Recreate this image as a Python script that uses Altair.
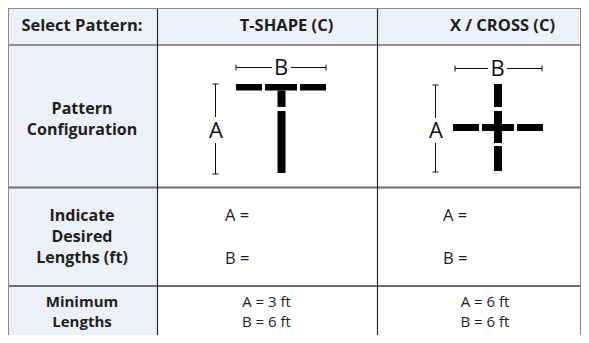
import altair as alt
import pandas as pd

# ---------------- content ----------------
corner_label = "Select Pattern:"
patterns = ["T-SHAPE (C)", "X / CROSS (C)"]
row_labels = [
    ["Pattern", "Configuration"],
    ["Indicate", "Desired", "Lengths (ft)"],
    ["Minimum", "Lengths"],
]
entry_labels = ["A =", "B ="]
min_a_ft = [3, 6]
min_b_ft = [6, 6]
dim_letters = ["A", "B"]

# ---------------- layout (page pixels) ----------------
W, H = 573, 327
DOM_X = [8, 8 + W]
DOM_Y = [8, 8 + H]
col_edges = [8, 157.5, 377.5, 581]
row_edges = [8, 45, 187.5, 286, 400]
BG = "#edf0f6"
INK = "#1e1e1e"

xs = alt.Scale(domain=DOM_X, range=[0, W], nice=False, zero=False)
ys = alt.Scale(domain=DOM_Y, range=[0, H], nice=False, zero=False)


def X(f="x"):
    return alt.X(f"{f}:Q", scale=xs, axis=None)


def Y(f="y"):
    return alt.Y(f"{f}:Q", scale=ys, axis=None)


# backgrounds
bg = pd.DataFrame({
    "x": [col_edges[0], col_edges[0]],
    "x2": [col_edges[3], col_edges[1]],
    "y": [row_edges[0], row_edges[1]],
    "y2": [row_edges[1], row_edges[4]],
})
bg_layer = alt.Chart(bg).mark_rect(color=BG).encode(
    x=X(), x2="x2:Q", y=Y(), y2="y2:Q")

# grid lines
vlines = pd.DataFrame({"x": col_edges[1:3], "y": [row_edges[0]] * 2, "y2": [row_edges[4]] * 2})
vline_layer = alt.Chart(vlines).mark_rule(color="#2b2b2b", strokeWidth=1.2).encode(
    x=X(), y=Y(), y2="y2:Q")

hlines = pd.DataFrame({"y": row_edges[1:4], "x": [col_edges[0]] * 3, "x2": [col_edges[3]] * 3,
                       "w": [1.5, 2, 2]})
hline_layer = alt.Chart(hlines).mark_rule(color="#6f6f6f").encode(
    y=Y(), x=X(), x2="x2:Q", strokeWidth=alt.StrokeWidth("w:Q", scale=None, legend=None))

outer = pd.DataFrame({
    "x": [col_edges[0], col_edges[0] + 0.5, col_edges[3] - 0.5],
    "x2": [col_edges[3], col_edges[0] + 0.5, col_edges[3] - 0.5],
    "y": [row_edges[0] + 0.5, row_edges[0], row_edges[0]],
    "y2": [row_edges[0] + 0.5, row_edges[4], row_edges[4]],
})
outer_layer = alt.Chart(outer).mark_rule(color="#8a8a8a", strokeWidth=1).encode(
    x=X(), x2="x2:Q", y=Y(), y2="y2:Q")

# ---------------- text ----------------
header_x = [82, 286.5, 502.5]
header_y = 31
hdr = pd.DataFrame({"t": [corner_label] + patterns, "x": header_x, "y": [header_y] * 3})
hdr_layer = alt.Chart(hdr).mark_text(font="Open Sans", fontWeight="bold", fontSize=16.5,
                                     color=INK, align="center", baseline="alphabetic").encode(
    x=X(), y=Y(), text="t:N")

# multi-line row labels: first baseline + line height per row
row_first_baseline = [114, 221, 307]
row_line_height = [21, 21, 19.5]
row_font_size = [16, 16, 15]
labels = pd.DataFrame({
    "t": ["\n".join(lines) for lines in row_labels],
    "x": [82] * 3,
    "y": row_first_baseline,
})
lab_layers = [
    alt.Chart(labels.iloc[[i]]).mark_text(font="Open Sans", fontWeight="bold",
                                          fontSize=row_font_size[i],
                                          color=INK, align="center", baseline="alphabetic",
                                          lineBreak="\n", lineHeight=row_line_height[i]).encode(
        x=X(), y=Y(), text="t:N")
    for i in range(3)
]

entry_x = [225, 443]
entry_y = [221, 264]
ent = pd.DataFrame([{"t": t, "x": ex, "y": ey}
                    for ex in entry_x for t, ey in zip(entry_labels, entry_y)])
ent_layer = alt.Chart(ent).mark_text(font="Open Sans", fontSize=16.5, color=INK,
                                     align="left", baseline="alphabetic").encode(
    x=X(), y=Y(), text="t:N")

min_x = [266.5, 485]
mins = pd.DataFrame({
    "t": [f"A = {a} ft\nB = {b} ft" for a, b in zip(min_a_ft, min_b_ft)],
    "x": min_x,
    "y": [307, 307],
})
min_layer = alt.Chart(mins).mark_text(font="Open Sans", fontSize=15, color=INK,
                                      align="center", baseline="alphabetic",
                                      lineBreak="\n", lineHeight=19.5).encode(
    x=X(), y=Y(), text="t:N")

# ---------------- pattern diagrams ----------------
# black bar pieces (x, x2, y, y2)
t_pieces = [
    (236, 262, 84, 90.5), (265, 297, 84, 90.5), (300, 326, 84, 90.5),
    (277.5, 285.5, 90.5, 107), (277.5, 285.5, 111, 173),
]
x_pieces = [
    (453, 479, 124, 131), (482, 514, 124, 131), (517, 543, 124, 131),
    (494, 502, 84, 107), (494, 502, 111, 124), (494, 502, 131, 143), (494, 502, 146, 171),
]
pieces = pd.DataFrame(t_pieces + x_pieces, columns=["x", "x2", "y", "y2"])
piece_layer = alt.Chart(pieces).mark_rect(color="#000000").encode(
    x=X(), x2="x2:Q", y=Y(), y2="y2:Q")

# dimension lines (x, x2, y, y2)
dims = [
    # T : A
    (215.5, 215.5, 84, 117), (215.5, 215.5, 143, 174),
    (212.5, 218.5, 84, 84), (212.5, 218.5, 174, 174),
    # T : B
    (236, 272, 67.5, 67.5), (291, 326, 67.5, 67.5),
    (236, 236, 64.5, 70.5), (326, 326, 64.5, 70.5),
    # X : A
    (435.5, 435.5, 85, 118), (435.5, 435.5, 143, 172),
    (432.5, 438.5, 85, 85), (432.5, 438.5, 172, 172),
    # X : B
    (455, 488, 68.5, 68.5), (507, 542, 68.5, 68.5),
    (455, 455, 65.5, 71.5), (542, 542, 65.5, 71.5),
]
dims = pd.DataFrame(dims, columns=["x", "x2", "y", "y2"])
dim_layer = alt.Chart(dims).mark_rule(color="#111111", strokeWidth=1).encode(
    x=X(), x2="x2:Q", y=Y(), y2="y2:Q")

letter_pos = {"T": [(216, 131), (281, 68)], "X": [(436, 131), (497.5, 69)]}
lets = []
for key in ["T", "X"]:
    for letter, (lx, ly) in zip(dim_letters, letter_pos[key]):
        lets.append({"t": letter, "x": lx, "y": ly})
lets = pd.DataFrame(lets)
let_layer = alt.Chart(lets).mark_text(font="Open Sans", fontWeight="normal", fontSize=22,
                                      color="#111111", align="center", baseline="middle").encode(
    x=X(), y=Y(), text="t:N")

chart = alt.layer(
    bg_layer, hline_layer, vline_layer, outer_layer,
    piece_layer, dim_layer,
    hdr_layer, *lab_layers, ent_layer, min_layer, let_layer,
).properties(width=W, height=H, padding=0, autosize=alt.AutoSizeParams(type="none")
).configure_view(stroke=None)

chart.save("out.html", embed_options={"renderer": "svg", "actions": False})
